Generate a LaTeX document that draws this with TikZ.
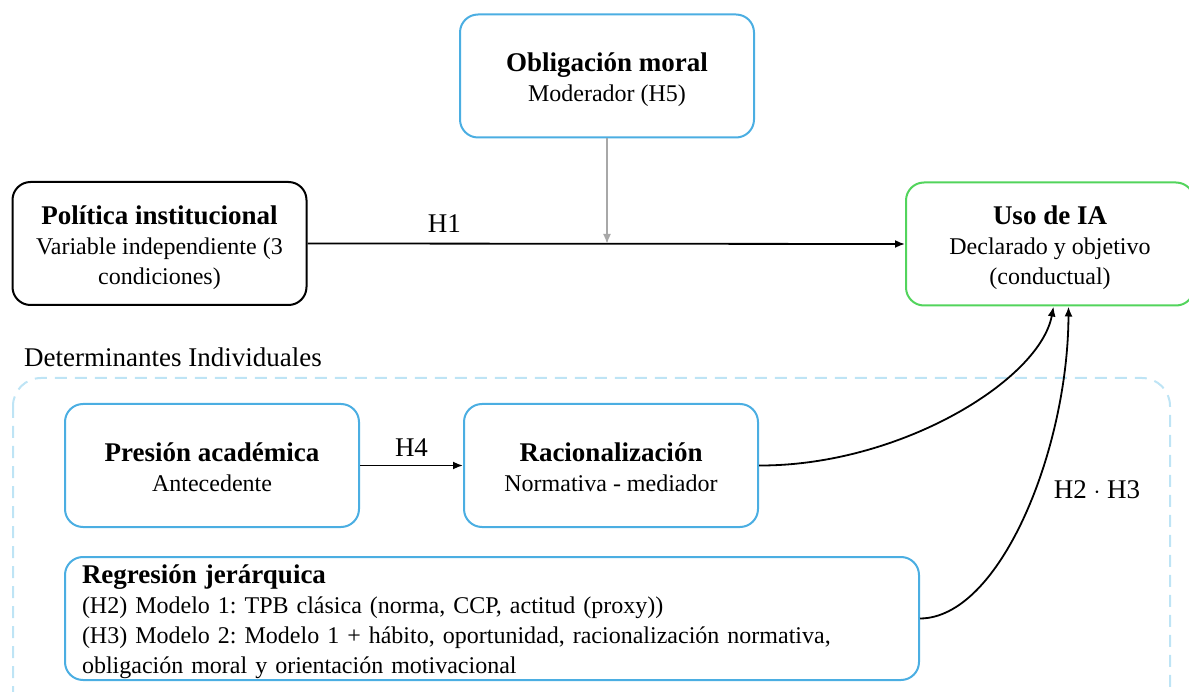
\documentclass[tikz,border=0pt]{standalone}
\usepackage{fontspec}
\setmainfont{Liberation Serif}
\usetikzlibrary{arrows.meta}
\frenchspacing
\definecolor{boxblue}{RGB}{75,174,226}
\definecolor{boxgreen}{RGB}{82,212,92}
\definecolor{dashblue}{RGB}{190,228,245}
\definecolor{modgrey}{RGB}{168,168,168}
\newcommand{\bt}[1]{{\fontsize{27}{31}\selectfont\bfseries #1}}
\tikzset{
  x=1pt,y=-1pt,
  every node/.style={font=\fontsize{24}{30}\selectfont},
  box/.style={draw, line width=2pt, rounded corners=18pt,
    minimum width=294pt, minimum height=123pt, inner sep=0pt},
  bluebox/.style={box, draw=boxblue},
  txt/.style={align=center, inner sep=0pt},
  arr/.style={line width=1.8pt, -{Latex[length=10pt,width=8pt]}},
  lbl/.style={inner sep=2pt, font=\fontsize{27}{31}\selectfont}
}
\begin{document}
\begin{tikzpicture}
\useasboundingbox (0,0) rectangle (1189,692);
% container
\draw[dashblue, line width=2pt, dash pattern=on 12pt off 8pt, rounded corners=28pt]
  (13,378) rectangle (1170,720);
\node[lbl, anchor=west, inner sep=0pt] (det) at (24,357) {Determinantes Individuales};
% boxes
\node[bluebox] (obl) at (607,76) {};
\node[box, draw=black] (pol) at (159.5,243.5) {};
\node[box, draw=boxgreen, minimum width=288pt] (uso) at (1050,244) {};
\node[bluebox] (pres) at (212,465.5) {};
\node[bluebox] (rac) at (611,465.5) {};
\node[bluebox, minimum width=854pt] (reg) at (492,618.5) {};
% texts
\node[txt] (oblt) at ([yshift=-3.5pt]obl.center) {\bt{Obligación moral}\\Moderador (H5)};
\node[txt] (polt) at ([yshift=-4pt]pol.center) {\bt{Política institucional}\\Variable independiente (3\\condiciones)};
\node[txt] (usot) at ([yshift=-4pt]uso.center) {\bt{Uso de IA}\\Declarado y objetivo\\(conductual)};
\node[txt] (prest) at ([yshift=-2pt]pres.center) {\bt{Presión académica}\\Antecedente};
\node[txt] (ract) at ([yshift=-2pt]rac.center) {\bt{Racionalización}\\Normativa - mediador};
\node[txt, align=left, text width=820pt] (regt) at ([yshift=-3pt]reg.center)
  {\bt{Regresión jerárquica}\\(H2) Modelo 1: TPB clásica (norma, CCP, actitud (proxy))\\(H3) Modelo 2: Modelo 1 + hábito, oportunidad, racionalización normativa,\\obligación moral y orientación motivacional};
% connectors
\draw[arr] (pol.east) -- node[lbl, pos=0.229, above=8pt] (h1) {H1} (uso.west);
\coordinate (mod) at (obl.south |- uso.west);
\draw[line width=1.8pt, modgrey, -{Latex[length=10pt,width=8pt]}] (obl.south) -- (mod);
\draw[arr] (pres.east) -- node[lbl, above=6pt] (h4) {H4} (rac.west);
\coordinate (u1) at ([xshift=3.5pt]uso.south);
\coordinate (u2) at ([xshift=18.5pt]uso.south);
\draw[arr] (rac.east) .. controls (900,466) and (1040,380) .. (u1);
\draw[arr] (reg.east) .. controls (1000,618) and (1068,450) .. (u2);
\node[lbl] (h23) at (1097,490) {H2 $\cdot$ H3};
\end{tikzpicture}
\end{document}
